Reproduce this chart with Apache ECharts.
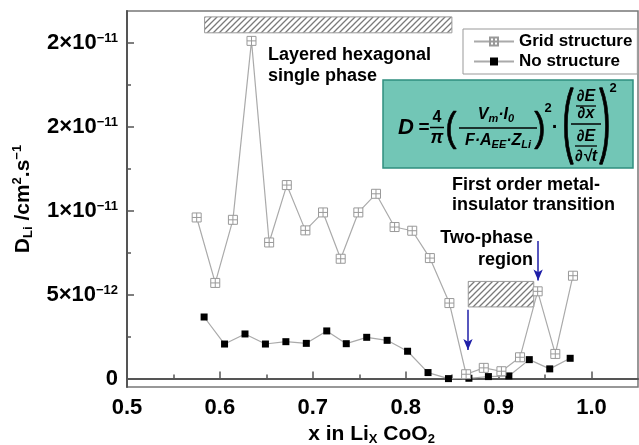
<!DOCTYPE html>
<html>
<head>
<meta charset="utf-8">
<script src="https://cdn.jsdelivr.net/npm/echarts@6/dist/echarts.min.js"></script>
<style>
html, body { margin: 0; padding: 0; background: #fff; }
#chart { width: 639px; height: 445px; }
</style>
</head>
<body>
<div id="chart"></div>
<script>
// values in units of 1e-12 cm2/s
var gridX = [0.575, 0.595, 0.614, 0.634, 0.653, 0.672, 0.692, 0.711, 0.730, 0.749, 0.768, 0.788, 0.807, 0.826, 0.847, 0.865, 0.884, 0.903, 0.923, 0.942, 0.961, 0.980];
var gridY = [9.6, 5.7, 9.46, 20.12, 8.11, 11.53, 8.83, 9.9, 7.14, 9.9, 11.01, 9.03, 8.81, 7.18, 4.5, 0.26, 0.64, 0.44, 1.27, 5.2, 1.47, 6.13];
var noX = [0.583, 0.605, 0.627, 0.649, 0.671, 0.693, 0.715, 0.736, 0.758, 0.780, 0.802, 0.824, 0.846, 0.868, 0.889, 0.911, 0.933, 0.955, 0.977];
var noY = [3.67, 2.06, 2.66, 2.06, 2.20, 2.10, 2.84, 2.08, 2.46, 2.28, 1.63, 0.36, 0.0, 0.02, 0.12, 0.16, 1.13, 0.58, 1.21];

var xTicks = [0.5, 0.6, 0.7, 0.8, 0.9, 1.0];
var xTickLabels = ['0.5', '0.6', '0.7', '0.8', '0.9', '1.0'];
var xMinorTicks = [0.55, 0.65, 0.75, 0.85, 0.95];
var yTicks = [0, 5, 10, 15, 20];
var yTickLabels = [['0', ''], ['5×10', '−12'], ['1×10', '−11'], ['2×10', '−11'], ['2×10', '−11']];
var yMinorTicks = [2.5, 7.5, 12.5, 17.5];

// hatched regions and arrows, in data coordinates
var phaseBoxes = [[[0.5835, 21.55], [0.8497, 20.6]], [[0.8673, 5.79], [0.9378, 4.27]]];
var arrows = [[[0.867, 4.1], [0.867, 1.7]], [[0.9425, 8.2], [0.9425, 5.85]]];

var FONT = "'Liberation Sans', Arial, sans-serif";

function hatch() {
    var c = document.createElement('canvas');
    c.width = 6; c.height = 6;
    var g = c.getContext('2d');
    g.fillStyle = '#fff';
    g.fillRect(0, 0, 6, 6);
    g.strokeStyle = '#7a7a7a';
    g.lineWidth = 1.3;
    g.beginPath();
    g.moveTo(0, 6); g.lineTo(6, 0);
    g.moveTo(-1, 1); g.lineTo(1, -1);
    g.moveTo(5, 7); g.lineTo(7, 5);
    g.stroke();
    return c;
}

function pick(list, labels, v) {
    for (var i = 0; i < list.length; i++) {
        if (Math.abs(list[i] - v) < 1e-6) return labels[i];
    }
    return null;
}

function txt(x, y, s, font, extra) {
    var st = { text: s, font: font, fill: '#000', textAlign: 'center', textVerticalAlign: 'middle', align: 'center', verticalAlign: 'middle' };
    if (extra) for (var k in extra) st[k] = extra[k];
    return { type: 'text', x: x, y: y, style: st, z: 100 };
}

function hline(x1, x2, y, w) {
    return { type: 'line', shape: { x1: x1, y1: y, x2: x2, y2: y }, style: { stroke: '#000', lineWidth: w || 1.5 }, z: 100 };
}

// tall bracket, stretched vertically
function paren(x, y, s, size, sy) {
    return { type: 'text', x: x, y: y, scaleY: sy, z: 100, style: { text: s, font: size + 'px ' + FONT, fill: '#000', textAlign: 'center', align: 'center', textVerticalAlign: 'middle', verticalAlign: 'middle', stroke: '#000', lineWidth: 0.6 } };
}

var bi = function (s) { return 'italic bold ' + s + 'px ' + FONT; };
var b = function (s) { return 'bold ' + s + 'px ' + FONT; };

var fracRich = {
    i: { font: bi(16), fill: '#000', lineHeight: 18 },
    s: { font: bi(11), fill: '#000', lineHeight: 11, verticalAlign: 'bottom' }
};

var chart = echarts.init(document.getElementById('chart'));

var option = {
    animation: false,
    backgroundColor: '#fff',
    textStyle: { fontFamily: FONT, fontWeight: 'bold', color: '#000' },
    grid: { left: 127, right: 1, top: 11, bottom: 58, outerBoundsMode: 'none', containLabel: false, show: true, borderColor: '#777', borderWidth: 1.5 },
    legend: {
        left: 463, top: 29, orient: 'vertical',
        backgroundColor: '#fff', borderColor: '#999', borderWidth: 1,
        padding: [4, 5, 4, 10], itemGap: 3, itemWidth: 40, itemHeight: 10,
        textStyle: { fontSize: 17, fontWeight: 'bold', color: '#000', fontFamily: FONT },
        data: ['Grid structure', 'No structure']
    },
    xAxis: [{
        type: 'value', min: 0.5, max: 1.05, position: 'bottom',
        axisLine: { lineStyle: { color: '#555', width: 2 } },
        axisTick: { inside: true, length: 7, customValues: xTicks, lineStyle: { color: '#555', width: 1.5 } },
        axisLabel: {
            customValues: xTicks, margin: 10, fontSize: 22, fontWeight: 'bold', color: '#000',
            formatter: function (v) { return pick(xTicks, xTickLabels, v); }
        },
        splitLine: { show: false },
        name: '{d|x in Li}{sub|X}{d| CoO}{sub|2}',
        nameLocation: 'middle', nameGap: 26,
        nameTextStyle: {
            padding: [0, 22, 0, 0],
            rich: {
                d: { fontSize: 21, fontWeight: 'bold', fontFamily: FONT, color: '#000', lineHeight: 24 },
                sub: { fontSize: 13, fontWeight: 'bold', fontFamily: FONT, color: '#000', verticalAlign: 'bottom', lineHeight: 16 }
            }
        }
    }, {
        type: 'value', min: 0.5, max: 1.05, position: 'bottom',
        axisLine: { show: false },
        axisTick: { inside: true, length: 4, customValues: xMinorTicks, lineStyle: { color: '#555', width: 1.5 } },
        axisLabel: { show: false },
        splitLine: { show: false }
    }],
    yAxis: [{
        type: 'value', min: -0.5, max: 21.9, position: 'left',
        axisLine: { show: true, lineStyle: { color: '#555', width: 2 } },
        axisTick: { show: true, inside: true, length: 7, customValues: yTicks, lineStyle: { color: '#555', width: 1.5 } },
        axisLabel: {
            customValues: yTicks, margin: 9,
            formatter: function (v) {
                var l = pick(yTicks, yTickLabels, v);
                if (!l) return '';
                return l[1] ? '{b|' + l[0] + '}{s|' + l[1] + '}' : '{b|' + l[0] + '}';
            },
            rich: {
                b: { fontSize: 22, fontWeight: 'bold', fontFamily: FONT, color: '#000', lineHeight: 22 },
                s: { fontSize: 13, fontWeight: 'bold', fontFamily: FONT, color: '#000', verticalAlign: 'top', lineHeight: 14 }
            }
        },
        splitLine: { show: false },
        name: '{d|D}{sub|Li}{d| /cm}{sup|2}{d|.s}{sup|−1}',
        nameLocation: 'middle', nameRotate: 90, nameGap: 92,
        nameTextStyle: {
            rich: {
                d: { fontSize: 21, fontWeight: 'bold', fontFamily: FONT, color: '#000', lineHeight: 24 },
                sub: { fontSize: 13, fontWeight: 'bold', fontFamily: FONT, color: '#000', verticalAlign: 'bottom', lineHeight: 14 },
                sup: { fontSize: 13, fontWeight: 'bold', fontFamily: FONT, color: '#000', verticalAlign: 'top', lineHeight: 14 }
            }
        }
    }, {
        type: 'value', min: -0.5, max: 21.9, position: 'left',
        axisLine: { show: false },
        axisTick: { show: true, inside: true, length: 4, customValues: yMinorTicks, lineStyle: { color: '#555', width: 1.5 } },
        axisLabel: { show: false },
        splitLine: { show: false }
    }],
    series: [
        {
            name: 'No structure',
            type: 'line',
            data: noX.map(function (x, i) { return [x, noY[i]]; }),
            symbol: 'rect', symbolSize: 7,
            itemStyle: { color: '#000' },
            lineStyle: { color: '#aaa', width: 1.2 },
            markArea: {
                silent: true,
                itemStyle: { color: { image: hatch(), repeat: 'repeat' }, borderColor: '#999', borderWidth: 1 },
                data: phaseBoxes.map(function (p) {
                    return [{ coord: p[0] }, { coord: p[1] }];
                })
            },
            markLine: {
                silent: true,
                symbol: ['none', 'arrow'], symbolSize: [7, 11],
                label: { show: false },
                lineStyle: { color: '#1f1fa8', width: 1.5, type: 'solid' },
                data: arrows.map(function (a) {
                    return [{ coord: a[0] }, { coord: a[1] }];
                })
            }
        },
        {
            name: 'Grid structure',
            type: 'line',
            data: gridX.map(function (x, i) { return [x, gridY[i]]; }),
            symbol: 'path://M0,0L10,0L10,10L0,10Z M5,0L5,10 M0,5L10,5', symbolSize: 9,
            itemStyle: { color: '#fff', borderColor: '#999', borderWidth: 1 },
            lineStyle: { color: '#aaa', width: 1.2 }
        }
    ],
    graphic: [
        txt(268, 45, 'Layered hexagonal\nsingle phase', b(18), { textAlign: 'left', align: 'left', lineHeight: 21, textVerticalAlign: 'top', verticalAlign: 'top' }),
        txt(452, 175, 'First order metal-\ninsulator transition', b(18), { textAlign: 'left', align: 'left', lineHeight: 20, textVerticalAlign: 'top', verticalAlign: 'top' }),
        txt(533, 227, 'Two-phase\nregion', b(18), { textAlign: 'right', align: 'right', lineHeight: 22, textVerticalAlign: 'top', verticalAlign: 'top' }),
        // formula box
        { type: 'rect', shape: { x: 383, y: 80, width: 250, height: 88 }, style: { fill: '#72c6b6', stroke: '#2f8f7f', lineWidth: 1.5 }, z: 90 },
        txt(406, 128, 'D', bi(22)),
        txt(424, 128, '=', b(19)),
        txt(437, 118, '4', b(16)),
        hline(430, 444, 127.5),
        txt(437, 138, 'π', bi(18)),
        paren(451, 130, '(', 34, 1.2),
        txt(496, 115, '{i|V}{s|m}{i|·I}{s|0}', '', { rich: fracRich }),
        hline(459, 537, 128),
        txt(498, 141, '{i|F·A}{s|EE}{i|·Z}{s|Li}', '', { rich: fracRich }),
        paren(540, 130, ')', 34, 1.2),
        txt(548, 108, '2', b(13)),
        txt(555, 127, '·', b(20)),
        paren(568, 124, '(', 34, 2.4),
        txt(586, 97, '∂E', bi(16)),
        hline(576, 596, 106, 1.3),
        txt(586, 114, '∂x', bi(16)),
        hline(571, 601, 124),
        txt(586, 137, '∂E', bi(16)),
        hline(575, 597, 146, 1.3),
        txt(586, 157, '∂√t', bi(16)),
        paren(605, 124, ')', 34, 2.4),
        txt(613, 88, '2', b(13))
    ]
};

option && chart.setOption(option);
</script>
</body>
</html>
